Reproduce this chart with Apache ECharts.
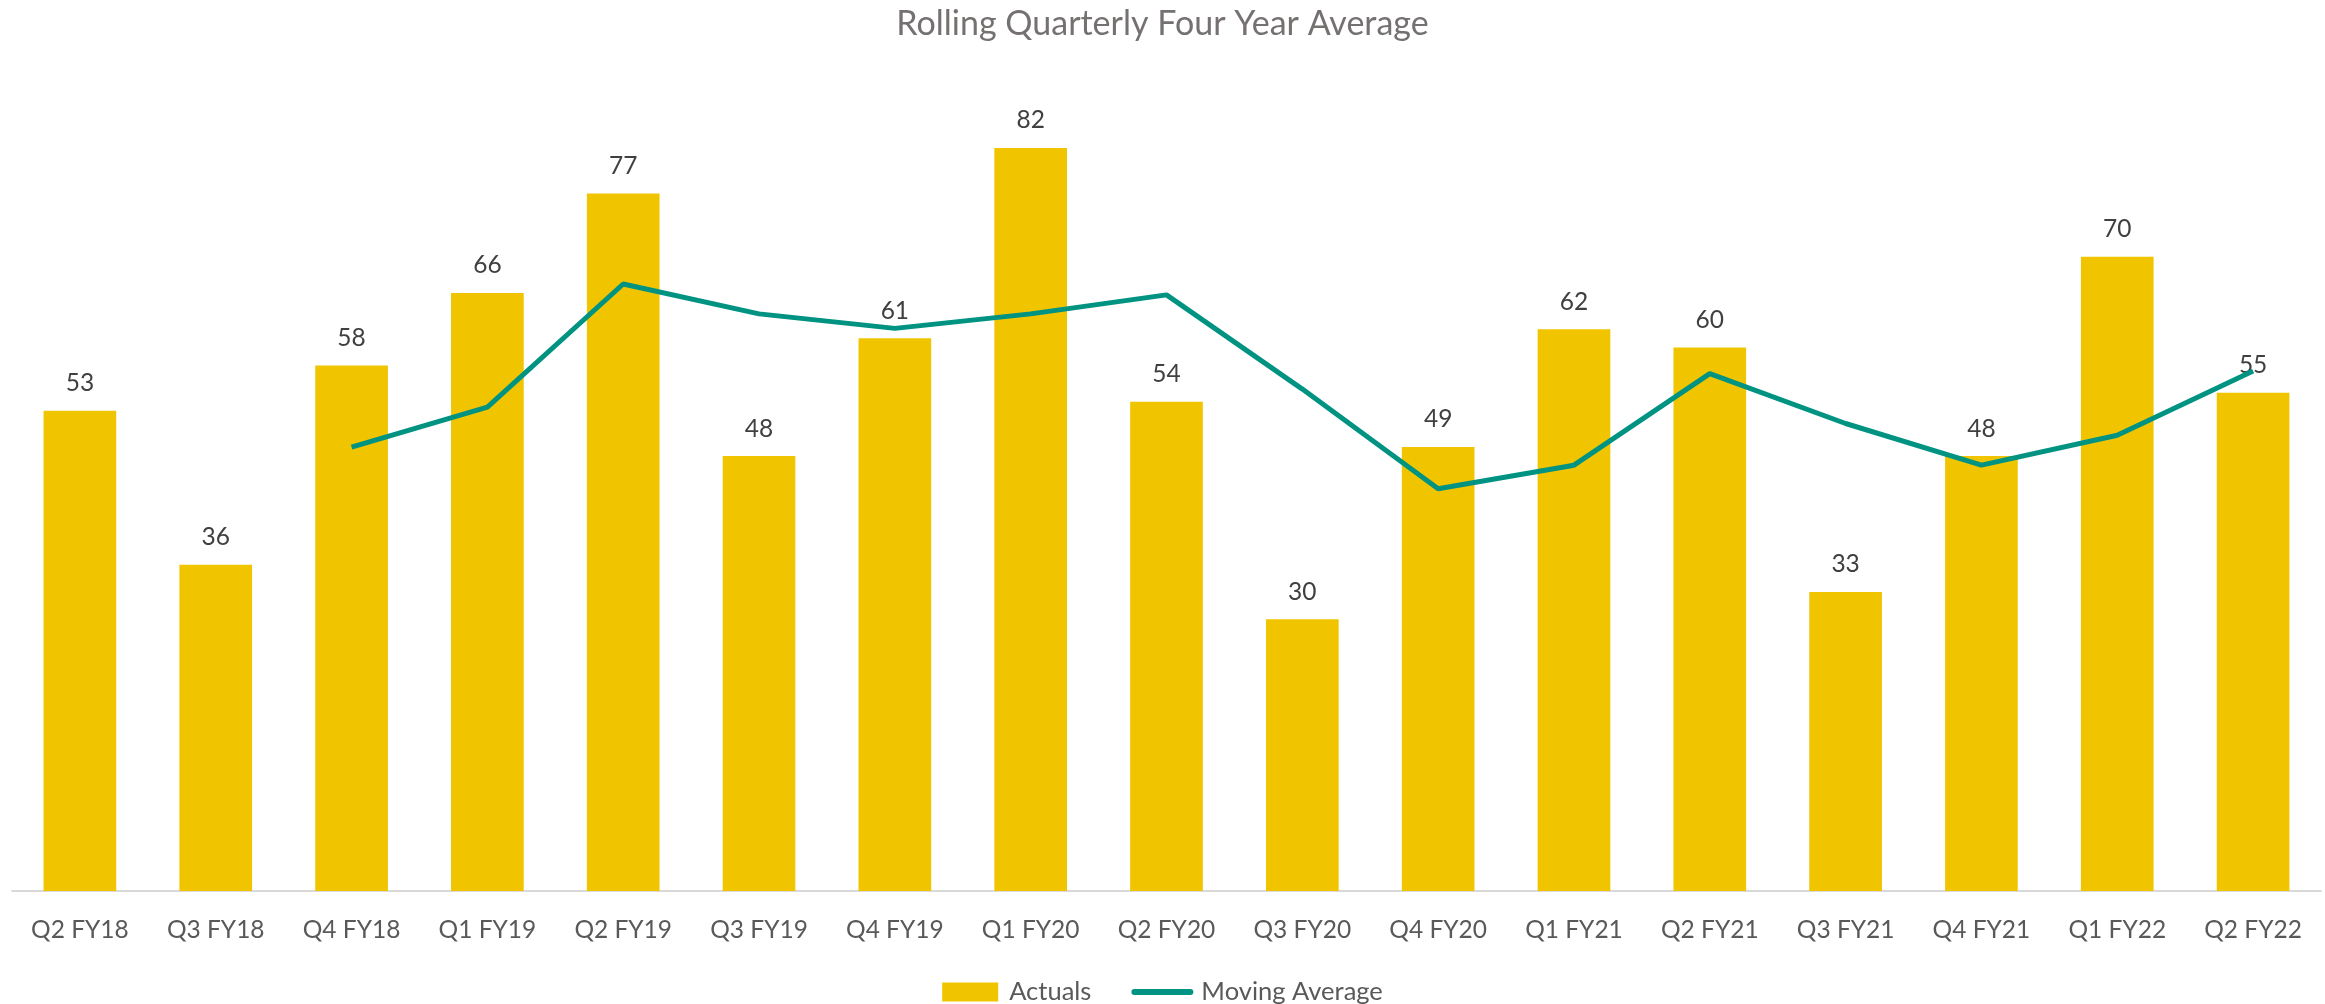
<!DOCTYPE html>
<html>
<head>
<meta charset="utf-8">
<script src="https://cdn.jsdelivr.net/npm/echarts@6/dist/echarts.min.js"></script>
<style>html,body{margin:0;padding:0;background:#fff}#c{width:2325px;height:1004px}</style>
</head>
<body>
<div id="c"></div>
<script>
const categories = ['Q2 FY18','Q3 FY18','Q4 FY18','Q1 FY19','Q2 FY19','Q3 FY19','Q4 FY19','Q1 FY20','Q2 FY20','Q3 FY20','Q4 FY20','Q1 FY21','Q2 FY21','Q3 FY21','Q4 FY21','Q1 FY22','Q2 FY22'];
const actuals = [53,36,58,66,77,48,61,82,54,30,49,62,60,33,48,70,55];
const movingAverage = [null,null,49.0,53.4,67.0,63.7,62.1,63.7,65.8,55.4,44.4,47.0,57.1,51.6,47.0,50.3,57.4];

const FONT = 'Lato, "Open Sans", sans-serif';
const chart = echarts.init(document.getElementById('c'));
chart.setOption({
  animation: false,
  backgroundColor: '#ffffff',
  title: {
    text: 'Rolling Quarterly Four Year Average',
    left: 'center',
    top: 2,
    textStyle: { fontFamily: FONT, fontSize: 34, fontWeight: 'normal', color: '#757171' }
  },
  legend: {
    top: 974,
    left: 'center',
    itemWidth: 56,
    itemHeight: 19,
    itemGap: 40,
    textStyle: { fontFamily: FONT, fontSize: 25.5, color: '#595959', padding: [0,0,0,6] },
    data: [
      { name: 'Actuals', icon: 'rect' },
      { name: 'Moving Average', itemStyle: { opacity: 0 }, lineStyle: { width: 6, cap: 'round' } }
    ]
  },
  grid: { left: 12, right: 4, top: 75.6, bottom: 113, containLabel: false },
  xAxis: {
    type: 'category',
    data: categories,
    axisTick: { show: false },
    axisLine: { lineStyle: { color: '#d9d9d9', width: 2 } },
    axisLabel: { fontFamily: FONT, fontSize: 24.5, color: '#595959', margin: 27 }
  },
  yAxis: {
    type: 'value', min: 0, max: 90, show: false,
    splitLine: { show: false }
  },
  series: [
    {
      name: 'Actuals',
      type: 'bar',
      data: actuals,
      barWidth: '53.5%',
      itemStyle: { color: '#F0C500' },
      label: {
        show: true, position: 'top', distance: 15,
        fontFamily: FONT, fontSize: 24.5, color: '#404040'
      }
    },
    {
      name: 'Moving Average',
      type: 'line',
      data: movingAverage,
      symbol: 'none',
      showSymbol: false,
      connectNulls: false,
      lineStyle: { color: '#009382', width: 5 },
      itemStyle: { color: '#009382' },
      z: 3
    }
  ]
});
</script>
</body>
</html>
